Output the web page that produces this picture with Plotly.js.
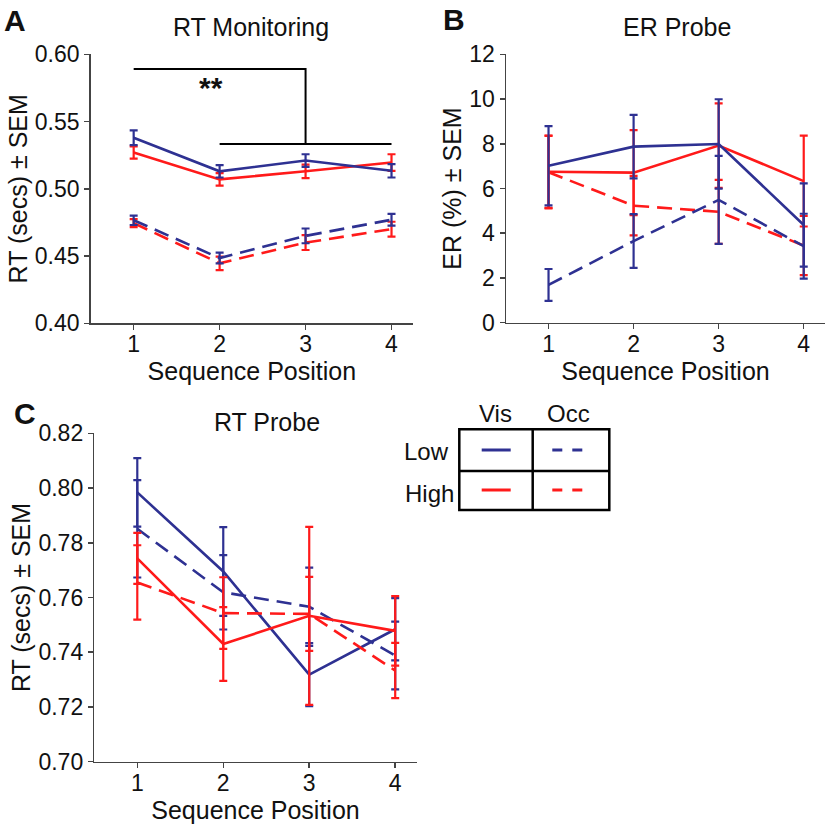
<!DOCTYPE html>
<html><head><meta charset="utf-8">
<script src="https://cdn.plot.ly/plotly-3.0.1.min.js"></script>
<style>html,body{margin:0;padding:0;background:#fff}</style>
</head><body><div id="chart" style="width:828px;height:826px"></div>
<script>
// ---------- data ----------
const positions = [1, 2, 3, 4];
const tickLabels = ['1', '2', '3', '4'];

// Panel A: RT Monitoring (secs)
const rtMonVisLow = [0.538, 0.513, 0.521, 0.5134];
const rtMonVisLowErr = [0.0055, 0.0046, 0.0047, 0.005];
const rtMonVisHigh = [0.527, 0.507, 0.513, 0.5195];
const rtMonVisHighErr = [0.0045, 0.0046, 0.005, 0.0062];
const rtMonOccLow = [0.4766, 0.4485, 0.465, 0.477];
const rtMonOccLowErr = [0.0035, 0.004, 0.0055, 0.0044];
const rtMonOccHigh = [0.4745, 0.4446, 0.46, 0.47];
const rtMonOccHighErr = [0.003, 0.005, 0.0055, 0.0055];
const sigUpperX = [1, 3, 3];
const sigUpperY = [0.589, 0.589, 0.5333];
const sigLowerX = [2, 4];
const sigLowerY = [0.5333, 0.5333];

// Panel B: ER Probe (%)
const erVisLow = [7.02, 7.87, 7.99, 4.37];
const erVisLowErr = [1.77, 1.42, 2.0, 1.86];
const erVisHigh = [6.75, 6.71, 7.92, 6.33];
const erVisHighErr = [1.62, 1.9, 1.89, 2.03];
const erOccLow = [1.69, 3.65, 5.49, 3.42];
const erOccLowErr = [0.71, 1.2, 1.97, 1.45];
const erOccHigh = [6.73, 5.23, 4.96, 3.45];
const erOccHighErr = [1.62, 1.33, 1.43, 1.32];

// Panel C: RT Probe (secs)
const rtProbeVisLow = [0.7984, 0.7695, 0.7318, 0.7484];
const rtProbeVisLowErr = [0.0125, 0.0162, 0.0115, 0.0114];
const rtProbeVisHigh = [0.7743, 0.743, 0.7533, 0.7478];
const rtProbeVisHighErr = [0.0093, 0.0135, 0.0325, 0.0127];
const rtProbeOccLow = [0.7851, 0.7619, 0.7566, 0.7388];
const rtProbeOccLowErr = [0.0178, 0.0136, 0.0143, 0.0124];
const rtProbeOccHigh = [0.7655, 0.7543, 0.754, 0.7333];
const rtProbeOccHighErr = [0.0136, 0.0131, 0.0135, 0.0101];

// ---------- styling ----------
const BLUE = '#2E3192';
const RED = '#FF1A1A';
const DASH = '15px,8px';
const FONT = 'Liberation Sans, Arial, Helvetica, sans-serif';
const TXT = '#111111';
const AX = '#444444';
const W = 828, H = 826;
const px = x => x / W;
const py = y => 1 - y / H;

function series(xa, ya, y, err, color, dashed) {
  return {
    type: 'scatter', mode: 'lines', x: positions, y: y, xaxis: xa, yaxis: ya,
    line: {color: color, width: 2.6, dash: dashed ? DASH : 'solid'},
    error_y: {type: 'data', array: err, visible: true, color: color, thickness: 2.2, width: 4},
    showlegend: false, hoverinfo: 'skip'
  };
}

const traces = [
  // A
  series('x', 'y', rtMonOccHigh, rtMonOccHighErr, RED, true),
  series('x', 'y', rtMonVisHigh, rtMonVisHighErr, RED, false),
  series('x', 'y', rtMonOccLow, rtMonOccLowErr, BLUE, true),
  series('x', 'y', rtMonVisLow, rtMonVisLowErr, BLUE, false),
  {type: 'scatter', mode: 'lines', x: sigUpperX, y: sigUpperY, xaxis: 'x', yaxis: 'y',
   line: {color: '#000', width: 2}, showlegend: false, hoverinfo: 'skip'},
  {type: 'scatter', mode: 'lines', x: sigLowerX, y: sigLowerY, xaxis: 'x', yaxis: 'y',
   line: {color: '#000', width: 2}, showlegend: false, hoverinfo: 'skip'},
  // B
  series('x2', 'y2', erOccHigh, erOccHighErr, RED, true),
  series('x2', 'y2', erVisHigh, erVisHighErr, RED, false),
  series('x2', 'y2', erOccLow, erOccLowErr, BLUE, true),
  series('x2', 'y2', erVisLow, erVisLowErr, BLUE, false),
  // C
  series('x3', 'y3', rtProbeOccLow, rtProbeOccLowErr, BLUE, true),
  series('x3', 'y3', rtProbeVisLow, rtProbeVisLowErr, BLUE, false),
  series('x3', 'y3', rtProbeOccHigh, rtProbeOccHighErr, RED, true),
  series('x3', 'y3', rtProbeVisHigh, rtProbeVisHighErr, RED, false)
];

function xAxis(domain, anchor) {
  return {
    domain: domain, anchor: anchor, range: [0.5, 4.25],
    tickvals: positions, ticktext: tickLabels,
    showline: true, linecolor: AX, linewidth: 1.5,
    ticks: 'outside', ticklen: 5, tickwidth: 1.5, tickcolor: AX,
    ticklabelstandoff: -5,
    showgrid: false, zeroline: false,
    tickfont: {family: FONT, size: 23, color: TXT},
    title: {text: 'Sequence Position', font: {family: FONT, size: 25, color: TXT}, standoff: 0}
  };
}
function yAxis(domain, anchor, range, dtick, fmt, title) {
  return {
    domain: domain, anchor: anchor, range: range, dtick: dtick, tick0: range[0],
    tickformat: fmt,
    showline: true, linecolor: AX, linewidth: 1.5,
    ticks: 'outside', ticklen: 5, tickwidth: 1.5, tickcolor: AX,
    showgrid: false, zeroline: false,
    tickfont: {family: FONT, size: 23, color: TXT},
    title: {text: title, font: {family: FONT, size: 25, color: TXT}, standoff: 0}
  };
}

function ann(text, x, y, size, bold) {
  return {xref: 'paper', yref: 'paper', x: px(x), y: py(y), xanchor: 'center', yanchor: 'middle',
    text: bold ? '<b>' + text + '</b>' : text, showarrow: false,
    font: {family: FONT, size: size, color: TXT}};
}

const annotations = [
  ann('A', 15, 20, 30, true),
  ann('B', 454, 19, 30, true),
  ann('C', 25, 413, 30, true),
  ann('RT Monitoring', 251, 27, 25, false),
  ann('ER Probe', 677, 27, 25, false),
  ann('RT Probe', 267, 422, 25, false),
  {xref: 'x', yref: 'y', x: 1.9, y: 0.5755, text: '<b>**</b>', showarrow: false,
   font: {family: FONT, size: 30, color: TXT}, xanchor: 'center', yanchor: 'middle'},
  ann('Vis', 495, 413, 24, false),
  ann('Occ', 568, 413, 24, false),
  ann('Low', 427, 451, 24, false),
  ann('High', 429, 493, 24, false)
];

function pline(x0, y0, x1, y1, color, width, dash) {
  return {type: 'line', xref: 'paper', yref: 'paper', x0: px(x0), y0: py(y0), x1: px(x1), y1: py(y1),
    line: {color: color, width: width, dash: dash || 'solid'}};
}
const shapes = [
  {type: 'rect', xref: 'paper', yref: 'paper', x0: px(459.3), x1: px(609.3), y0: py(510), y1: py(429.3),
   line: {color: '#000', width: 2.5}},
  pline(532.7, 429.3, 532.7, 510, '#000', 2.5),
  pline(459.3, 471, 609.3, 471, '#000', 2.5),
  pline(481.7, 450, 510.7, 450, BLUE, 3),
  pline(552.3, 450, 583.3, 450, BLUE, 3, '10px,10px'),
  pline(481.7, 490, 510.7, 490, RED, 3),
  pline(552.3, 490, 583.3, 490, RED, 3, '10px,10px')
];

const layout = {
  width: W, height: H, margin: {l: 0, r: 0, t: 0, b: 0},
  paper_bgcolor: '#fff', plot_bgcolor: '#fff', showlegend: false,
  font: {family: FONT, color: TXT},
  xaxis: xAxis([px(90.7), px(413)], 'y'),
  yaxis: yAxis([py(323.3), py(54.3)], 'x', [0.40, 0.60], 0.05, '.2f', 'RT (secs) ± SEM'),
  xaxis2: xAxis([px(506), px(825)], 'y2'),
  yaxis2: yAxis([py(322.7), py(54.3)], 'x2', [0, 12], 2, 'd', 'ER (%) ± SEM'),
  xaxis3: xAxis([px(94.3), px(416.7)], 'y3'),
  yaxis3: yAxis([py(761.7), py(433.3)], 'x3', [0.70, 0.82], 0.02, '.2f', 'RT (secs) ± SEM'),
  annotations: annotations,
  shapes: shapes
};

Plotly.newPlot('chart', traces, layout, {displayModeBar: false, staticPlot: true});
</script></body></html>
